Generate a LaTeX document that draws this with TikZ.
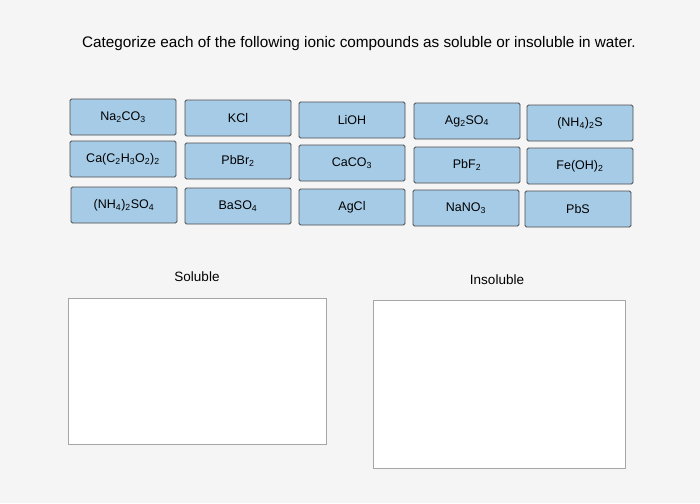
\documentclass[tikz,border=0pt]{standalone}
\usepackage{fontspec}
\setmainfont{Liberation Sans}
\definecolor{chipblue}{HTML}{A6CBE6}
\newcommand{\sbs}[1]{\textsubscript{#1}}
\begin{document}
\begin{tikzpicture}[x=1pt,y=-1pt,
  chip/.style={draw=black!70,fill=chipblue,line width=0.8pt,rounded corners=1.5pt,minimum width=106pt,minimum height=36pt,font=\fontsize{12.5}{14}\selectfont},
  zone/.style={draw=black!35,fill=white,line width=0.6pt},
  lbl/.style={font=\fontsize{13.5}{15}\selectfont},
  ttl/.style={font=\fontsize{15.3}{17}\selectfont}]
\fill[black!4] (0,0) rectangle (700,503);
\useasboundingbox (0,0) rectangle (700,503);
\node[ttl] (title) at (359,44) {Categorize each of the following ionic compounds as soluble or insoluble in water.};
\node[chip] (a1) at (123,117) {Na\sbs{2}CO\sbs{3}};
\node[chip] (a2) at (238,118) {KCl};
\node[chip] (a3) at (352,120) {LiOH};
\node[chip] (a4) at (467,121) {Ag\sbs{2}SO\sbs{4}};
\node[chip] (a5) at (580,123) {(NH\sbs{4})\sbs{2}S};
\node[chip] (b1) at (123,159) {Ca(C\sbs{2}H\sbs{3}O\sbs{2})\sbs{2}};
\node[chip] (b2) at (238,161) {PbBr\sbs{2}};
\node[chip] (b3) at (352,163) {CaCO\sbs{3}};
\node[chip] (b4) at (467,165) {PbF\sbs{2}};
\node[chip] (b5) at (580,166) {Fe(OH)\sbs{2}};
\node[chip] (c1) at (124,205) {(NH\sbs{4})\sbs{2}SO\sbs{4}};
\node[chip] (c2) at (238,206) {BaSO\sbs{4}};
\node[chip] (c3) at (352,207) {AgCl};
\node[chip] (c4) at (466,208) {NaNO\sbs{3}};
\node[chip] (c5) at (578,209) {PbS};
\node[lbl] (sol) at (197,277) {Soluble};
\node[lbl] (ins) at (497,280) {Insoluble};
\draw[zone] (68,298) rectangle (326,444);
\draw[zone] (373,300) rectangle (625,468);
\end{tikzpicture}
\end{document}
